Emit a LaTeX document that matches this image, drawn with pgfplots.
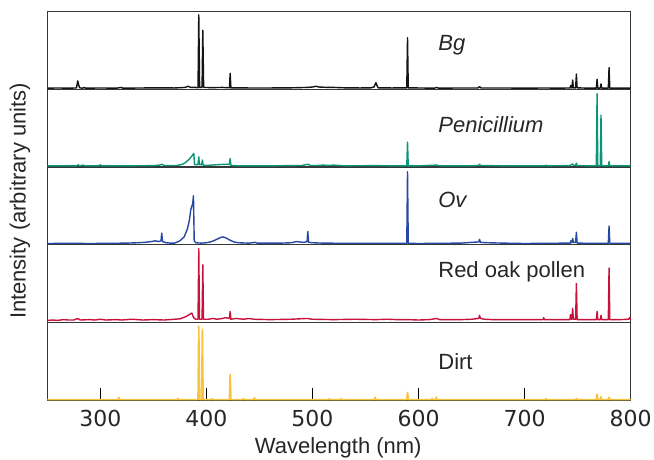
\documentclass[border=0pt]{standalone}
\usepackage{pgfplots}
\pgfplotsset{compat=1.18}
\usepackage{fontspec}
\setmainfont{Liberation Sans}
\newfontfamily\tickf{DejaVu Sans}
\definecolor{cBg}{RGB}{20,20,20}
\definecolor{cPen}{RGB}{10,150,118}
\definecolor{cOv}{RGB}{38,72,165}
\definecolor{cRed}{RGB}{200,18,62}
\definecolor{cDirt}{RGB}{248,196,60}
\definecolor{frame}{RGB}{55,55,55}
\newcommand{\bigf}{\fontsize{22}{26}\selectfont}
\pgfplotsset{
  panel/.style={
    scale only axis, width=583.4pt, height=77.66pt,
    xmin=250, xmax=800, ymin=0, ymax=100,
    ytick=\empty, xtick=\empty,
    axis line style={frame, line width=1.3pt},
    clip=false,
  },
  spec/.style={line width=1.4pt, line join=round},
}
\tikzset{tl/.style={anchor=north, inner sep=0pt, font=\tickf\bigf, text=black!85, yshift=-10pt}}
\begin{document}
\begin{tikzpicture}
\useasboundingbox (-47.3pt,-59pt) rectangle (606.7pt,400pt);
% Dirt (bottom)
\begin{axis}[panel, at={(0pt,0pt)},
  xtick={300,400,500,600,700,800}, xticklabels={},
  xtick pos=bottom, tick align=inside,
  major tick length=12pt, tick style={black, line width=1pt}]
\addplot[spec, cDirt, line width=1.7pt] coordinates {(250,0.5)(316.7,0.5)(317.4,3.5)(318.1,0.5)(372.3,0.5)(373,2)(373.7,0.5)(392.1,0.5)(392.8,95)(393.5,0.5)(395.5,0.5)(396.2,91)(396.9,0.5)(404,0.5)(405,1.5)(406,0.5)(421.7,0.5)(422.4,33)(423.1,0.5)(434,0.5)(435,1.5)(436,0.5)(444.5,0.5)(445.3,3)(446,0.5)(515,0.5)(516,1.5)(517,0.5)(526.3,0.5)(527,2)(527.7,0.5)(558.3,0.5)(559,3.5)(559.7,0.5)(588.9,0.5)(589.6,9.6)(590.3,0.5)(612,0.5)(612.8,2)(613.5,0.5)(616,0.5)(616.7,3.5)(617.4,0.5)(719,0.5)(720,1.5)(721,0.5)(748.1,0.5)(748.8,2)(749.5,0.5)(767.6,0.5)(768.3,7.5)(769,0.5)(771.3,0.5)(772,4)(772.7,0.5)(778.9,0.5)(779.6,3.5)(780.3,0.5)(800,0.5)};
\node[anchor=west, inner sep=0pt, font=\bigf, text=black!85] at (axis cs:618.5,50) {Dirt};
\node[tl] at (axis cs:300,0) {300};
\node[tl] at (axis cs:400,0) {400};
\node[tl] at (axis cs:500,0) {500};
\node[tl] at (axis cs:600,0) {600};
\node[tl] at (axis cs:700,0) {700};
\node[tl] at (axis cs:800,0) {800};
\node[anchor=base, inner sep=0pt, font=\bigf, text=black!85, yshift=-53.5pt] at (axis cs:524.3,0) {Wavelength (nm)};
\end{axis}
% Red oak pollen
\begin{axis}[panel, at={(0pt,77.66pt)}]
\addplot[spec, cRed] coordinates {(250,2.5)(255,3)(260,2.5)(265,3.5)(270,3)(275,3)(278.7,5)(281,3)(290,3.5)(295,3)(300,4)(305,3)(315,3.5)(320,3)(330,4)(340,3)(350,3.5)(360,3)(370,4)(375,4.5)(380,7)(384,10)(386.2,12)(388,6)(390,4)(392.1,4)(392.8,95)(393.5,4)(395.9,4)(396.6,74)(397.3,4)(402,4)(406,5)(410,4)(415,5)(418,6)(421.7,5)(422.4,14)(423.1,4)(428,5)(435,4)(440,5)(445,4)(460,3.5)(480,4)(495,5)(500,4)(520,3.5)(540,4)(560,3.5)(570,4)(580,3.5)(590,3.5)(600,3)(610,3.5)(617,5)(620,3.5)(640,3.5)(650,4)(656.7,5)(657.5,9)(658.3,5)(662,4)(670,3.5)(690,3.5)(710,3.5)(717.3,3.5)(718,6)(718.7,3.5)(730,3.5)(742.6,3.5)(743.3,10)(744,4)(744.6,4)(745.3,18)(746,4)(748.1,4)(748.8,50)(749.5,3.5)(760,3.5)(767.6,3.5)(768.3,14)(769,3.5)(771.3,3.5)(772,9)(772.7,3.5)(778.9,3.5)(779.6,70)(780.3,3.5)(790,3.5)(798,4)(799,6)(800,3.5)};
\node[anchor=west, inner sep=0pt, font=\bigf, text=black!85] at (axis cs:618.5,65) {Red oak pollen};
\end{axis}
% Ov
\begin{axis}[panel, at={(0pt,155.32pt)}]
\addplot[spec, cOv] coordinates {(250,1.5)(270,1.8)(290,1.5)(310,1.8)(325,2)(335,2.5)(342,3)(348,4)(352,5)(355,4)(357.2,5)(357.9,15)(358.6,4)(362,2.5)(366,2)(370,2)(375,5)(379,10)(382,20)(384,32)(385.3,45)(386.3,50)(387,52)(387.8,63)(388.5,5)(390,2.5)(395,2)(400,2.5)(405,4)(410,7)(413,9)(415.5,10)(418,9)(422,6)(426,3.5)(430,2.5)(440,2)(446,3)(448,2)(460,2)(470,2)(480,2.5)(485,4)(488,3.5)(492,3)(494.9,4)(495.6,17)(496.3,3)(500,2.5)(510,2)(530,1.8)(560,1.8)(588.9,1.8)(589.6,94)(590.3,1.8)(600,1.5)(620,1.8)(640,2)(650,3)(656.7,3.5)(657.5,7)(658.3,3)(665,2.5)(680,2)(700,1.5)(720,1.8)(743,2)(743.6,5)(744.3,2.5)(744.6,3)(745.3,8)(746,3)(748.1,3)(748.8,16)(749.5,2)(760,1.8)(778.9,1.8)(779.6,24)(780.3,1.8)(800,1.8)};
\node[anchor=west, inner sep=0pt, font=\bigf\itshape, text=black!85] at (axis cs:618.5,58) {Ov};
\end{axis}
% Penicillium
\begin{axis}[panel, at={(0pt,232.98pt)}]
\addplot[spec, cPen] coordinates {(250,1.5)(278,1.5)(279,3)(280,1.5)(284,2.5)(285,1.5)(299,1.5)(300,3)(301,1.5)(330,1.5)(350,1.8)(356,2.5)(358.2,3.6)(360,2)(368,2)(372,2)(376,3)(379,4.5)(383,9)(386,13.5)(388.1,17.6)(388.8,3)(392.1,3)(392.8,13)(393.5,3)(395.5,3)(396.2,9)(396.9,2.5)(400,2)(405,2.5)(410,3)(418,3.5)(421.7,3.5)(422.4,11)(423.1,2)(430,1.5)(460,1.5)(480,1.8)(490,2)(495.6,3.5)(498,2)(505,2)(510,2.5)(515,2)(520,2.5)(530,1.5)(560,1.8)(575,1.5)(588.9,1.5)(589.6,32)(590.3,1.5)(600,1.5)(617,2.5)(620,1.5)(650,1.5)(656.5,2)(657.5,3.5)(658.5,2)(680,1.5)(700,1.5)(719,1.5)(720,2.5)(721,1.5)(743,1.8)(744,3)(745.3,4)(746,2)(748.1,2.5)(748.8,5)(749.5,1.8)(760,1.5)(767.6,1.5)(768.3,94.5)(769,1.5)(771.3,1.5)(772,67)(772.7,1.5)(778.9,1.5)(779.6,7)(780.3,1.5)(800,1.5)};
\node[anchor=west, inner sep=0pt, font=\bigf\itshape, text=black!85] at (axis cs:618.5,55) {Penicillium};
\end{axis}
% Bg (top)
\begin{axis}[panel, at={(0pt,310.64pt)}]
\addplot[spec, cBg] coordinates {(250,1.5)(260,1.8)(270,1.5)(277.5,1.8)(278.7,11)(279.5,6)(280.5,2)(283,1.5)(285,2.5)(286,1.5)(300,1.8)(315,1.5)(320,2.5)(321,1.5)(340,1.8)(355,2)(370,1.8)(380,2.5)(382.7,4)(385,2.5)(390,2.5)(392.1,2)(392.8,96)(393.6,2.5)(395.9,2.5)(396.6,76)(397.4,2.5)(405,2.2)(415,2.5)(421.7,2)(422.4,20.6)(423.1,2)(430,2)(440,1.8)(460,1.8)(480,2)(495,2.5)(500,3)(503.5,4)(506,3)(515,2.5)(520,2.5)(530,2)(545,1.8)(555,2)(558,3)(559.8,8.6)(560.8,5)(562,2)(575,1.8)(588.9,2)(589.6,66.5)(590.3,2)(600,1.8)(615,1.5)(617,2.5)(619,1.5)(640,1.8)(656,1.8)(657.5,3.5)(659,1.8)(680,1.8)(700,1.5)(720,1.8)(730,1.5)(742.8,1.8)(743.5,5)(744.2,1.8)(744.6,2)(745.3,12)(746,2)(748.1,2)(748.8,19.7)(749.5,2)(760,1.5)(767.6,1.5)(768.3,13)(769,1.5)(771.3,1.5)(772,7)(772.7,1.5)(778.9,1.5)(779.6,28)(780.3,1.5)(790,1.5)(800,1.5)};
\node[anchor=west, inner sep=0pt, font=\bigf\itshape, text=black!85] at (axis cs:618.5,57) {Bg};
\end{axis}
\node[rotate=90, font=\bigf, text=black!85] at (-27.3pt,199pt) {Intensity (arbitrary units)};
\end{tikzpicture}
\end{document}
